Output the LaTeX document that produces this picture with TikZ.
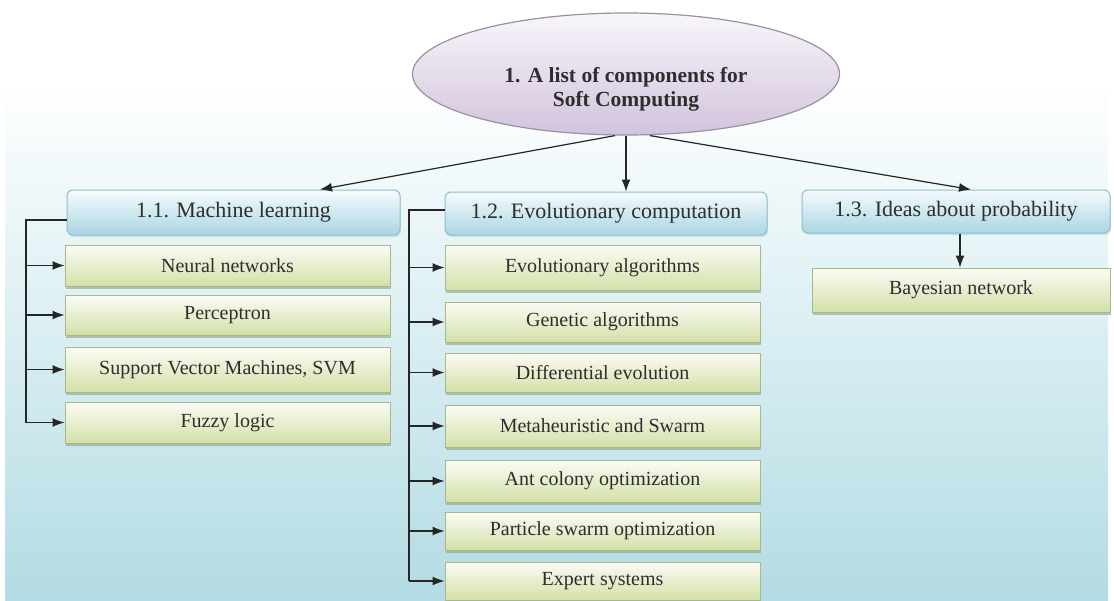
\documentclass[tikz,border=0pt]{standalone}
\usepackage{fontspec}
\setmainfont{Liberation Serif}
\usetikzlibrary{arrows.meta,shapes.geometric,calc,shadows}
\definecolor{bgb}{HTML}{B3DBE3}
\definecolor{bgm}{HTML}{D9EEF2}
\definecolor{elltop}{HTML}{F8F6FA}
\definecolor{ellbot}{HTML}{D2C3DD}
\definecolor{elldraw}{HTML}{9A90A2}
\definecolor{hdtop}{HTML}{F6FBFC}
\definecolor{hdbot}{HTML}{A9D6E3}
\definecolor{hddraw}{HTML}{93BCCB}
\definecolor{chtop}{HTML}{FBFCF5}
\definecolor{chbot}{HTML}{D3E0A8}
\definecolor{chdraw}{HTML}{A7B98C}
\definecolor{chshadow}{HTML}{8FA37A}
\definecolor{txt}{HTML}{2E2E2E}
\tikzset{
  rootnode/.style={ellipse, draw=elldraw, line width=1.2pt, top color=elltop, bottom color=ellbot,
    minimum width=427pt, minimum height=122pt, inner sep=0pt},
  roottext/.style={align=center, inner sep=0pt,
    font=\fontsize{21.5}{24}\selectfont\bfseries, text=txt},
  headbox/.style={rectangle, rounded corners=6pt, draw=hddraw, line width=1pt, top color=hdtop, bottom color=hdbot,
    inner sep=0pt, font=\fontsize{22}{26}\selectfont, text=txt,
    drop shadow={shadow xshift=1pt, shadow yshift=-2pt, opacity=0.35, fill=hddraw}},
  childbox/.style={rectangle, draw=chdraw, line width=1pt, top color=chtop, bottom color=chbot,
    inner sep=0pt, font=\fontsize{20}{24}\selectfont, text=txt,
    drop shadow={shadow xshift=1pt, shadow yshift=-2.5pt, opacity=0.6, fill=chshadow}},
  arr/.style={draw=black!85, line width=1.2pt, -{Latex[length=12pt,width=9pt]}},
  trunk/.style={draw=black!85, line width=1.2pt}
}
\begin{document}
\begin{tikzpicture}[x=1pt,y=-1pt]
\useasboundingbox (0,0) rectangle (1114,600);
\fill[white] (0,0) rectangle (1114,600);
\fill[white] (5,0) rectangle (1108,80);
\shade[top color=white, bottom color=bgb, middle color=bgm] (5,80) rectangle (1108,600);

% root
\node[rootnode] (ell) at (626,74) {};
\node[roottext] (elltxt) at (626,89) {1. A list of components for\\Soft Computing};

% headers
\node[headbox, minimum width=333pt, minimum height=45pt] (h1) at (233.5,212.5) {1.1. Machine learning};
\node[headbox, minimum width=322pt, minimum height=43pt] (h2) at (606,213.5) {1.2. Evolutionary computation};
\node[headbox, minimum width=308pt, minimum height=43pt] (h3) at (956,211.5) {1.3. Ideas about probability};

% column 1 children
\node[childbox, minimum width=325pt, minimum height=41pt] (nn) at (227.5,265.5) {Neural networks};
\node[childbox, minimum width=325pt, minimum height=40pt] (pc) at (227.5,315) {Perceptron};
\node[childbox, minimum width=325pt, minimum height=45pt] (svm) at (227.5,369.5) {Support Vector Machines, SVM};
\node[childbox, minimum width=325pt, minimum height=41pt] (fz) at (227.5,422.5) {Fuzzy logic};

% column 2 children
\node[childbox, minimum width=315pt, minimum height=45pt] (ea) at (602.5,267.5) {Evolutionary algorithms};
\node[childbox, minimum width=315pt, minimum height=40pt] (ga) at (602.5,322) {Genetic algorithms};
\node[childbox, minimum width=315pt, minimum height=39pt] (de) at (602.5,372.5) {Differential evolution};
\node[childbox, minimum width=315pt, minimum height=42pt] (ms) at (602.5,426) {Metaheuristic and Swarm};
\node[childbox, minimum width=315pt, minimum height=42pt] (ac) at (602.5,481) {Ant colony optimization};
\node[childbox, minimum width=315pt, minimum height=38pt] (ps) at (602.5,531) {Particle swarm optimization};
\node[childbox, minimum width=315pt, minimum height=38pt] (es) at (602.5,581) {Expert systems};

% column 3 child
\node[childbox, minimum width=298pt, minimum height=44pt] (bn) at (961,290) {Bayesian network};

% connectors from root
\draw[arr] ([xshift=-11pt]ell.south) -- ([xshift=86.5pt]h1.north);
\draw[arr] (ell.south) -- (ell.south |- h2.north);
\draw[arr] ([xshift=24pt]ell.south) -- ([xshift=15pt]h3.north);

% column 1 trunk
\coordinate (t1) at (26,220);
\draw[trunk] (h1.west |- t1) -- (t1) -- (t1 |- fz.west);
\foreach \n in {nn,pc,svm,fz}
  \draw[arr] (t1 |- \n.west) -- (\n.west);

% column 2 trunk
\coordinate (t2) at (409,210);
\draw[trunk] (h2.west |- t2) -- (t2) -- (t2 |- es.west);
\foreach \n in {ea,ga,de,ms,ac,ps,es}
  \draw[arr] (t2 |- \n.west) -- (\n.west);

% column 3
\draw[arr] ([xshift=4pt]h3.south) -- ([xshift=4pt]h3.south |- bn.north);
\end{tikzpicture}
\end{document}
